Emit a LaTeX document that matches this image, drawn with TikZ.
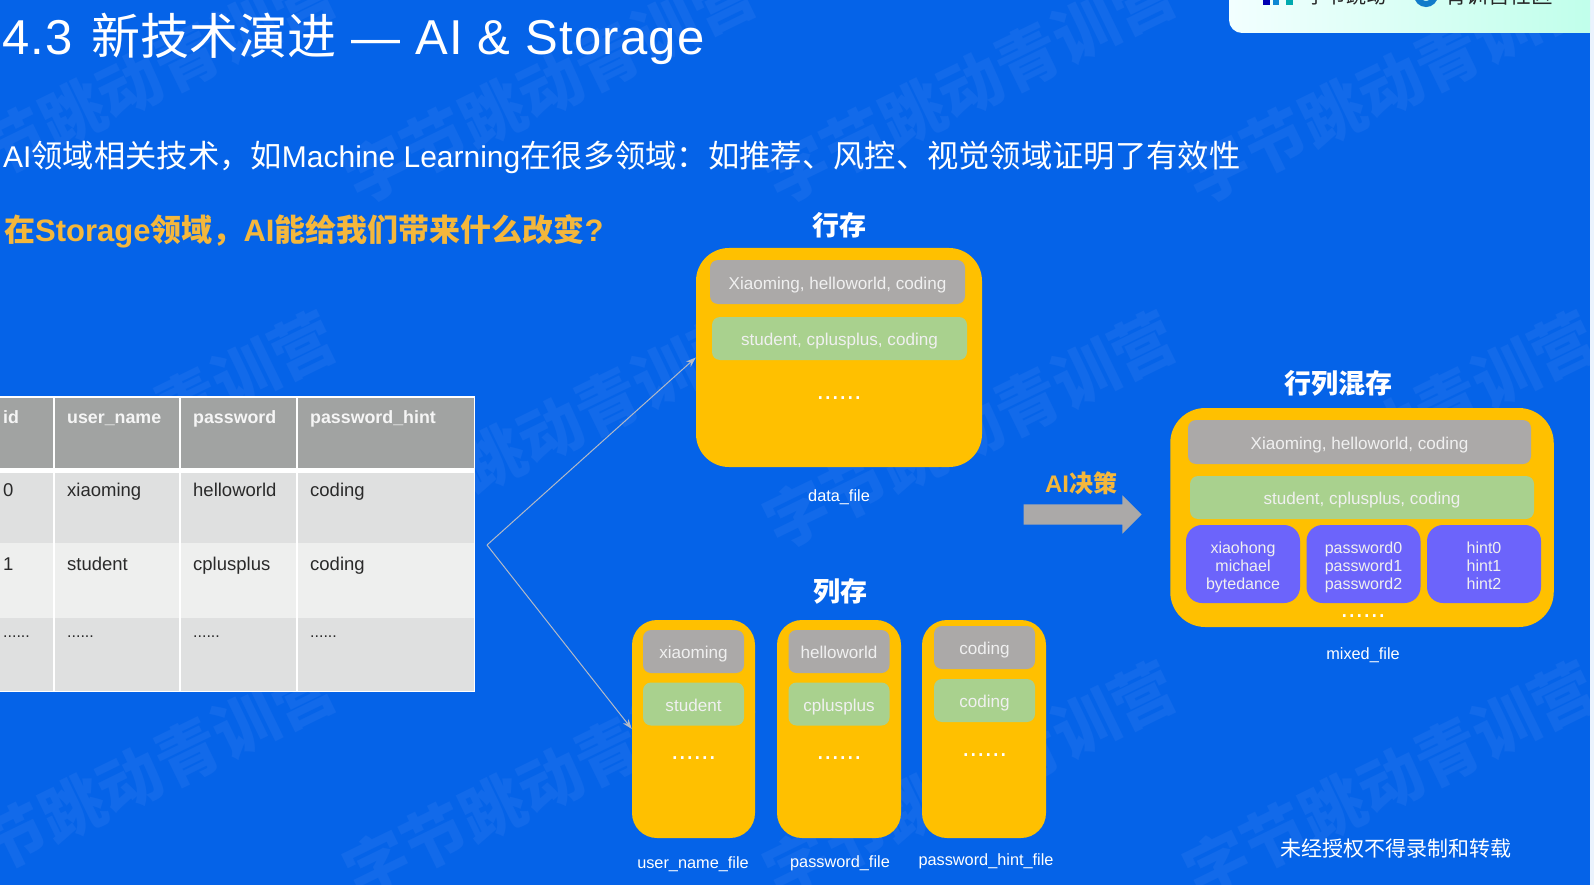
\documentclass[tikz,border=0pt]{standalone}
\usepackage{fontspec}
\usetikzlibrary{arrows.meta,shapes.arrows}
\setmainfont{Liberation Sans}
\newfontfamily\cjk{Noto Sans CJK SC}
\newcommand{\zh}[1]{{\cjk #1}}
\newcommand{\zhb}[1]{{\cjk\bfseries #1}}
\newcommand{\mixlines}[3]{\rule{0pt}{18pt}#1\\#2\\#3\rule[-4pt]{0pt}{4pt}}
\definecolor{slideblue}{HTML}{0563E8}
\definecolor{markblue}{HTML}{126AEA}
\definecolor{filegold}{HTML}{FFC000}
\definecolor{rowgrey}{HTML}{ABA9A8}
\definecolor{rowgreen}{HTML}{A9D18E}
\definecolor{colpurple}{HTML}{6C64FB}
\definecolor{asktext}{HTML}{F4B73C}
\definecolor{headgrey}{HTML}{A1A3A2}
\definecolor{bandgrey}{HTML}{DFE0E0}
\definecolor{banglight}{HTML}{EEEFEE}
\definecolor{celltext}{HTML}{2A2A2A}
\definecolor{linkgrey}{HTML}{B4BAC6}
\tikzset{
  filebox/.style={fill=filegold,rounded corners=#1},
  greycell/.style={fill=rowgrey,rounded corners=8pt,text=white!94!black,text height=14.5pt,text depth=0pt,font=\fontsize{17.1}{20}\selectfont},
  greencell/.style={fill=rowgreen,rounded corners=8pt,text=white!94!black,text height=14.5pt,text depth=0pt,font=\fontsize{17.1}{20}\selectfont},
  purplecell/.style={fill=colpurple,rounded corners=16pt,text=white!94!black,align=center,font=\fontsize{16}{18}\selectfont},
  filelabel/.style={anchor=base,inner sep=0pt,text=white,font=\fontsize{16.3}{20}\selectfont},
  grouptitle/.style={text=white,font=\fontsize{27}{30}\selectfont\cjk\bfseries},
  morerows/.style={text=white,anchor=base,font=\fontsize{27}{28}\selectfont},
  headcell/.style={anchor=base west,inner sep=0pt,text=white!96!black,font=\fontsize{17.8}{22}\selectfont\bfseries},
  bodycell/.style={anchor=base west,inner sep=0pt,text=celltext,font=\fontsize{18.5}{22}\selectfont},
  linkline/.style={linkgrey,line width=1pt,-{Stealth[length=10pt,width=7pt]}}
}
\begin{document}
\begin{tikzpicture}[x=1pt,y=-1pt]
      \useasboundingbox (0,0) rectangle (1594,885);
      \fill[slideblue] (0,0) rectangle (1594,885);

      \foreach \wx in {130,550,970,1390}
        \foreach \wy in {85,430,780}
          \node[rotate=26,text=markblue,font=\fontsize{64}{66}\selectfont\cjk\bfseries] (mark\wx\wy) at (\wx,\wy) {字节跳动青训营};
      \fill[white!92!slideblue] (1590,0) rectangle (1594,885);

      \path[left color=white!95!cyan,right color=cyan!18!white!92!green] (1229,-20) [rounded corners=13pt] -- (1229,33) [sharp corners] -- (1590,33) -- (1590,-20) -- cycle;
      \fill[blue!70!black] (1263,-5) rectangle (1270,5);
      \fill[cyan!70!blue] (1273,-5) rectangle (1279,5);
      \fill[cyan!60!green] (1286,-5) rectangle (1293,5);
      \draw[cyan!60!blue,line width=6pt] (1426,-5) circle (9);
      \node[anchor=base,inner sep=0pt,text=black!85,font=\fontsize{20}{22}\selectfont\cjk] (bytedance) at (1346,4) {字节跳动};
      \node[anchor=base,inner sep=0pt,text=black!85,font=\fontsize{21.5}{22}\selectfont\cjk] (camp) at (1499,4) {青训营社区};

      \node[anchor=west,inner sep=0pt,text=white,font=\fontsize{49}{50}\selectfont] (title) at (2,39) {\addfontfeature{LetterSpace=2.5}4.3\hspace{19pt}\zh{新技术演进} — AI \& Storage};
      \node[anchor=west,inner sep=0pt,text=white,font=\fontsize{30}{34}\selectfont] (intro) at (3,157) {AI{\fontsize{31.3}{34}\selectfont\zh{领域相关技术，如}}Machine Learning{\fontsize{31.3}{34}\selectfont\zh{在很多领域：如推荐、风控、视觉领域证明了有效性}}};
      \node[anchor=west,inner sep=0pt,text=asktext,font=\fontsize{31}{32}\selectfont\bfseries] (ask) at (4,231) {\zhb{在}Storage\zhb{领域，}AI\zhb{能给我们带来什么改变}?};

      \fill[white] (0,396) rectangle (475,692);
      \fill[headgrey] (0,398) rectangle (473.5,468);
      \fill[bandgrey] (0,473) rectangle (473.5,543);
      \fill[banglight] (0,543) rectangle (473.5,618);
      \fill[bandgrey] (0,618) rectangle (473.5,690.5);
      \draw[white,line width=1.5pt] (54,396) -- (54,692);
      \draw[white,line width=1.5pt] (180,396) -- (180,692);
      \draw[white,line width=1.5pt] (297,396) -- (297,692);
      \node[headcell] (headid) at (3,423.5) {id};
      \node[headcell] (headuser) at (67,423.5) {user\_name};
      \node[headcell] (headpass) at (193,423.5) {password};
      \node[headcell] (headhint) at (310,423.5) {password\_hint};
      \node[bodycell] (cellida) at (3,496.5) {0};
      \node[bodycell] (cellusera) at (67,496.5) {xiaoming};
      \node[bodycell] (cellpassa) at (193,496.5) {helloworld};
      \node[bodycell] (cellhinta) at (310,496.5) {coding};
      \node[bodycell] (cellidb) at (3,570.5) {1};
      \node[bodycell] (celluserb) at (67,570.5) {student};
      \node[bodycell] (cellpassb) at (193,570.5) {cplusplus};
      \node[bodycell] (cellhintb) at (310,570.5) {coding};
      \node[bodycell,font=\fontsize{16}{18}\selectfont] (cellidc) at (3,637.5) {......};
      \node[bodycell,font=\fontsize{16}{18}\selectfont] (celluserc) at (67,637.5) {......};
      \node[bodycell,font=\fontsize{16}{18}\selectfont] (cellpassc) at (193,637.5) {......};
      \node[bodycell,font=\fontsize{16}{18}\selectfont] (cellhintc) at (310,637.5) {......};

      \node[grouptitle] (rowtitle) at (839,225) {行存};
      \node[filebox=33pt,minimum width=286pt,minimum height=219pt] (rowbox) at (839,357.5) {};
      \node[greycell,minimum width=255pt,minimum height=44pt] (rowgreya) at (837.5,282) {Xiaoming, helloworld, coding};
      \node[greencell,minimum width=255pt,minimum height=43pt] (rowgreena) at (839.5,338.5) {student, cplusplus, coding};
      \node[morerows] (rowdots) at (839,399) {......};
      \node[filelabel] (rowfile) at (839,501) {data\_file};

      \node[grouptitle] (coltitle) at (840,591) {列存};
      \node[filebox=25pt,minimum width=123pt,minimum height=218pt] (colboxa) at (693.5,729) {};
      \node[filebox=25pt,minimum width=124pt,minimum height=218pt] (colboxb) at (839,729) {};
      \node[filebox=25pt,minimum width=124pt,minimum height=218pt] (colboxc) at (984,729) {};
      \node[greycell,minimum width=101pt,minimum height=43pt] (colgreya) at (693.5,651.5) {xiaoming};
      \node[greycell,minimum width=101pt,minimum height=43pt] (colgreyb) at (839,651.5) {helloworld};
      \node[greycell,minimum width=101pt,minimum height=43pt] (colgreyc) at (984.5,647.5) {coding};
      \node[greencell,minimum width=101pt,minimum height=43pt] (colgreena) at (693.5,704) {student};
      \node[greencell,minimum width=101pt,minimum height=43pt] (colgreenb) at (839,704) {cplusplus};
      \node[greencell,minimum width=101pt,minimum height=43pt] (colgreenc) at (984.5,700.5) {coding};
      \node[morerows] (coldotsa) at (693.5,759) {......};
      \node[morerows] (coldotsb) at (839,759) {......};
      \node[morerows] (coldotsc) at (984.5,756) {......};
      \node[filelabel] (colfilea) at (693,868) {user\_name\_file};
      \node[filelabel] (colfileb) at (840,867) {password\_file};
      \node[filelabel] (colfilec) at (986,865) {password\_hint\_file};

      \coordinate (tablelink) at (487,545);
      \draw[linkline] (tablelink) -- (rowbox.west);
      \draw[linkline] (tablelink) -- (colboxa.west);

      \node[single arrow,fill=rowgrey,inner xsep=0pt,inner ysep=10pt,minimum height=118pt,single arrow head extend=9pt,single arrow head indent=0pt] (aiarrow) at (1077.5,514.5) {};
      \node[text=asktext,font=\fontsize{24}{26}\selectfont\bfseries] (ailabel) at (1081,483) {AI\zhb{决策}};

      \node[grouptitle] (mixtitle) at (1338,383) {行列混存};
      \node[filebox=35pt,minimum width=383.5pt,minimum height=219pt] (mixbox) at (1362,517.5) {};
      \node[greycell,minimum width=343pt,minimum height=44pt] (mixgrey) at (1359.5,442) {Xiaoming, helloworld, coding};
      \node[greencell,minimum width=344pt,minimum height=43pt] (mixgreen) at (1362,497.5) {student, cplusplus, coding};
      \node[purplecell,minimum width=114pt,minimum height=78pt] (mixusers) at (1243,564) {\mixlines{xiaohong}{michael}{bytedance}};
      \node[purplecell,minimum width=114pt,minimum height=78pt] (mixpass) at (1363.5,564) {\mixlines{password0}{password1}{password2}};
      \node[purplecell,minimum width=114pt,minimum height=78pt] (mixhint) at (1484,564) {\mixlines{hint0}{hint1}{hint2}};
      \node[morerows] (mixdots) at (1363,617) {......};
      \node[filelabel] (mixfile) at (1363,659) {mixed\_file};

      \node[text=white,font=\fontsize{21}{24}\selectfont\cjk] (notice) at (1396,849) {未经授权不得录制和转载};
\end{tikzpicture}
\end{document}
